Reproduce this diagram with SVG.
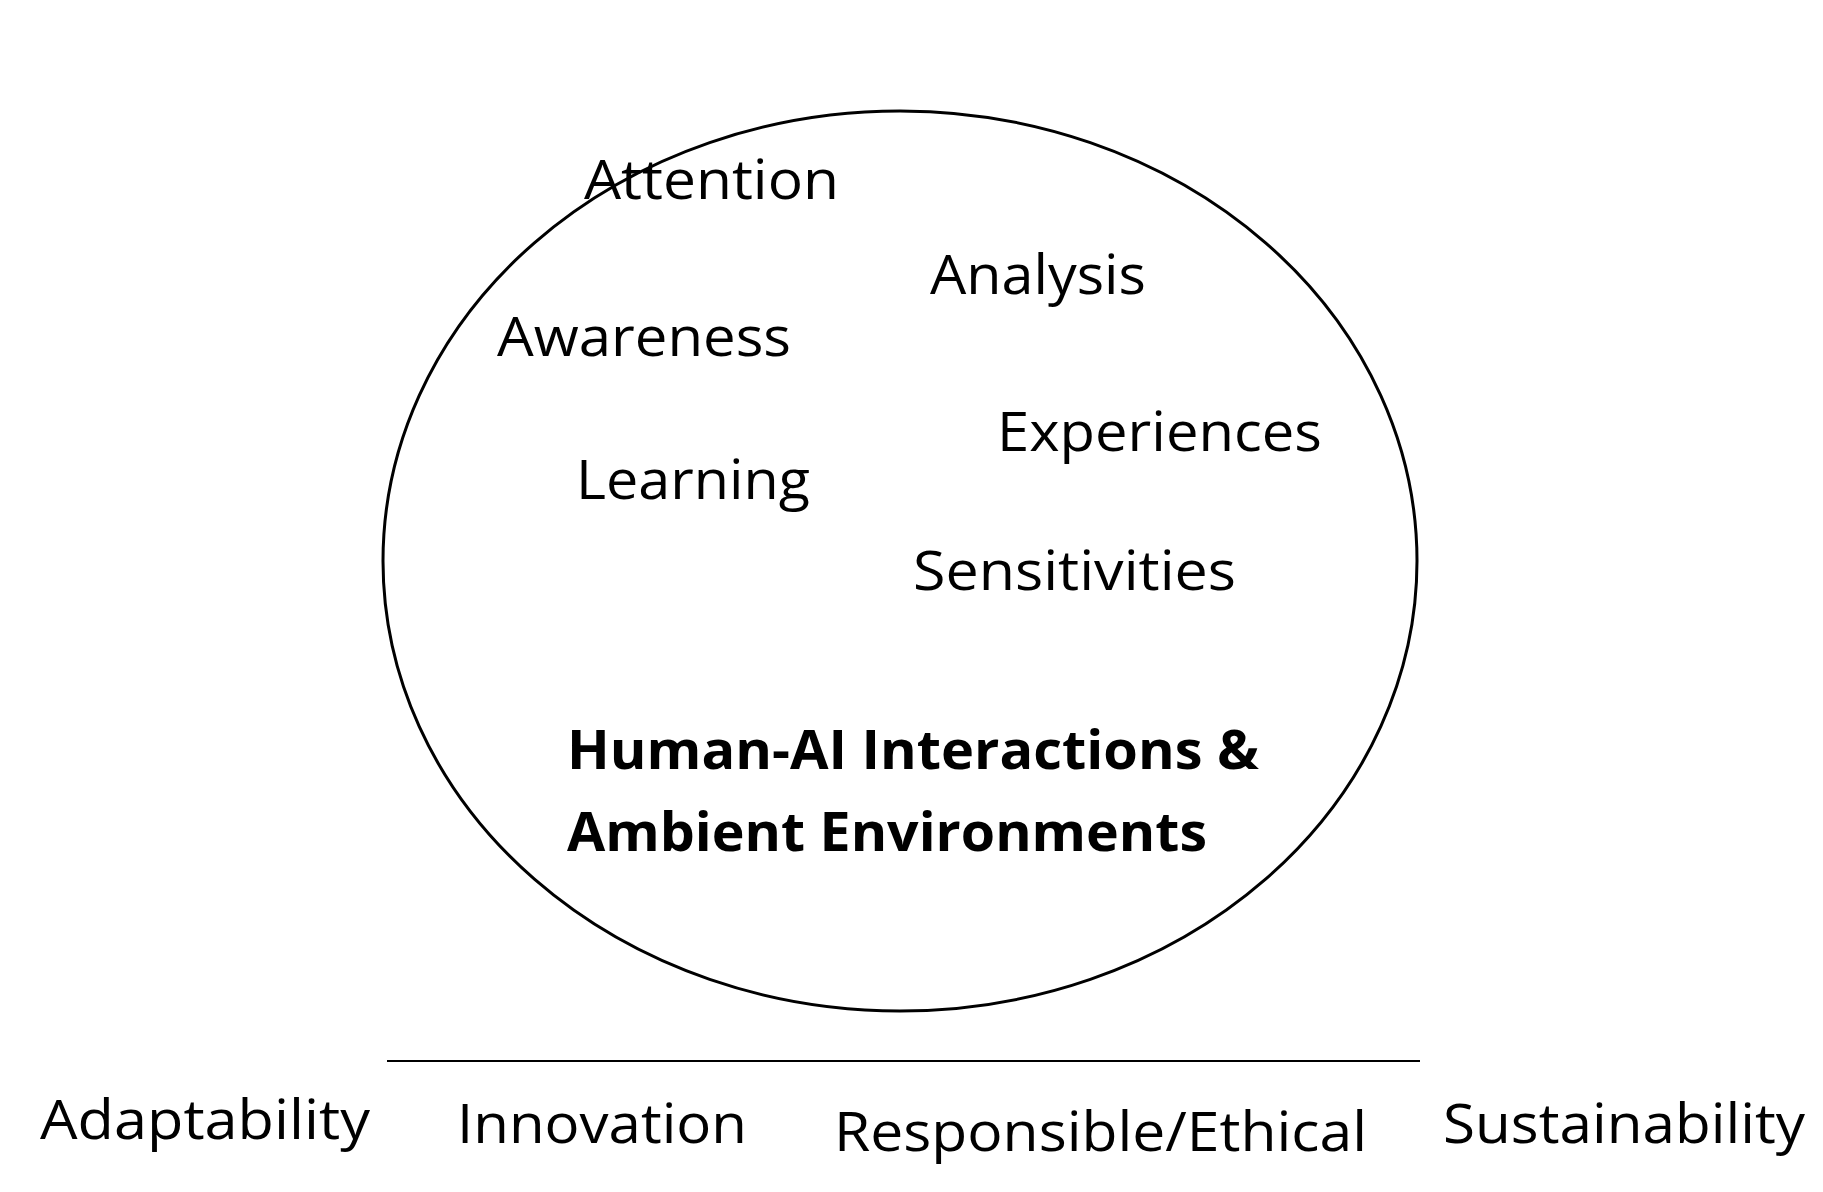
<svg xmlns="http://www.w3.org/2000/svg" width="1823" height="1192" viewBox="0 0 1823 1192">
<style>
text{font-family:"Open Sans","Liberation Sans",sans-serif;font-size:54px;fill:#000}
.b{font-weight:bold}
</style>
<rect width="1823" height="1192" fill="#fff"/>
<g id="circle"><ellipse cx="900" cy="561" rx="517" ry="450" fill="none" stroke="#000" stroke-width="3"/></g>
<g id="attention"><text x="584" y="199" textLength="255" lengthAdjust="spacingAndGlyphs">Attention</text></g>
<g id="analysis"><text x="930" y="294" textLength="216" lengthAdjust="spacingAndGlyphs">Analysis</text></g>
<g id="awareness"><text x="497" y="356" textLength="294" lengthAdjust="spacingAndGlyphs">Awareness</text></g>
<g id="experiences"><text x="997" y="451" textLength="325" lengthAdjust="spacingAndGlyphs">Experiences</text></g>
<g id="learning"><text x="576" y="499" textLength="234" lengthAdjust="spacingAndGlyphs">Learning</text></g>
<g id="sensitivities"><text x="913" y="590" textLength="323" lengthAdjust="spacingAndGlyphs">Sensitivities</text></g>
<g id="title"><text class="b" x="567" y="769" textLength="692" lengthAdjust="spacingAndGlyphs">Human-AI Interactions &amp;</text><text class="b" x="567" y="851" textLength="640" lengthAdjust="spacingAndGlyphs">Ambient Environments</text></g>
<g id="connectors"><line x1="387" y1="1061" x2="1420" y2="1061" stroke="#000" stroke-width="2"/></g>
<g id="adaptability"><text x="40" y="1139" textLength="330" lengthAdjust="spacingAndGlyphs">Adaptability</text></g>
<g id="innovation"><text x="457" y="1143" textLength="290" lengthAdjust="spacingAndGlyphs">Innovation</text></g>
<g id="responsible"><text x="834" y="1151" textLength="533" lengthAdjust="spacingAndGlyphs">Responsible/Ethical</text></g>
<g id="sustainability"><text x="1443" y="1143" textLength="362" lengthAdjust="spacingAndGlyphs">Sustainability</text></g>
</svg>
